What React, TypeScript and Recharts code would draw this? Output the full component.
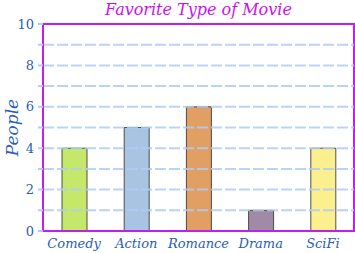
import React from 'react';
import {
  BarChart,
  Bar,
  Cell,
  XAxis,
  YAxis,
  ReferenceLine,
  ReferenceArea,
} from 'recharts';

// Movie categories and how many people picked each
const categories = ['Comedy', 'Action', 'Romance', 'Drama', 'SciFi'];
const people = [4, 5, 6, 1, 4];
const yTicks = [0, 1, 2, 3, 4, 5, 6, 7, 8, 9, 10];
const gridValues = [1, 2, 3, 4, 5, 6, 7, 8, 9];

const COLORS = ['#c6e86a', '#a9c4e3', '#e19f64', '#a08aa6', '#fcf08e'];

const data = categories.map((name, i) => ({ name, value: people[i] }));

const PURPLE = '#c21ef0';
const BLUE = '#2a5db5';
const GRID = '#b0cbf8';
const FONT = '"DejaVu Serif", serif';

const App: React.FC = () => {
  return (
    <div style={{ position: 'absolute', left: 0, top: 0, width: 355, height: 253 }}>
      <div
        style={{
          position: 'absolute',
          left: 43,
          width: 311,
          top: 0,
          textAlign: 'center',
          fontFamily: FONT,
          fontStyle: 'italic',
          fontSize: 16,
          lineHeight: '20px',
          color: '#cc11ee',
        }}
      >
        Favorite Type of Movie
      </div>
      <BarChart
        width={355}
        height={253}
        data={data}
        margin={{ top: 24, right: 1, bottom: 0, left: 0 }}
        barSize={25}
      >
        <XAxis
          dataKey="name"
          height={22}
          axisLine={{ stroke: PURPLE, strokeWidth: 2 }}
          tickLine={false}
          tick={{ fill: BLUE, fontFamily: FONT, fontStyle: 'italic', fontSize: 13 }}
          tickMargin={2}
          interval={0}
        />
        <YAxis
          width={43}
          domain={[0, 10]}
          ticks={yTicks}
          interval={0}
          tickFormatter={(v: number) => (v % 2 === 0 ? String(v) : '')}
          axisLine={{ stroke: PURPLE, strokeWidth: 2 }}
          tickLine={{ stroke: GRID, strokeWidth: 2 }}
          tickSize={5}
          tickMargin={4}
          tick={{ fill: BLUE, fontFamily: FONT, fontSize: 13 }}
          label={{
            value: 'People',
            angle: -90,
            position: 'insideLeft',
            offset: 12,
            style: { fill: BLUE, fontFamily: FONT, fontStyle: 'italic', fontSize: 17, textAnchor: 'middle' },
          }}
        />
        <Bar dataKey="value" isAnimationActive={false} stroke="#333" strokeOpacity={0.85} strokeWidth={1}>
          {data.map((entry, index) => (
            <Cell key={`cell-${index}`} fill={COLORS[index % COLORS.length]} />
          ))}
        </Bar>
        {gridValues.map((v) => (
          <ReferenceLine
            key={`grid-${v}`}
            y={v}
            stroke={GRID}
            strokeOpacity={0.85}
            strokeWidth={2}
            strokeDasharray="11 3"
          />
        ))}
        <ReferenceArea y1={0} y2={10} fill="none" fillOpacity={0} stroke={PURPLE} strokeWidth={2} />
      </BarChart>
    </div>
  );
};

export default App;
